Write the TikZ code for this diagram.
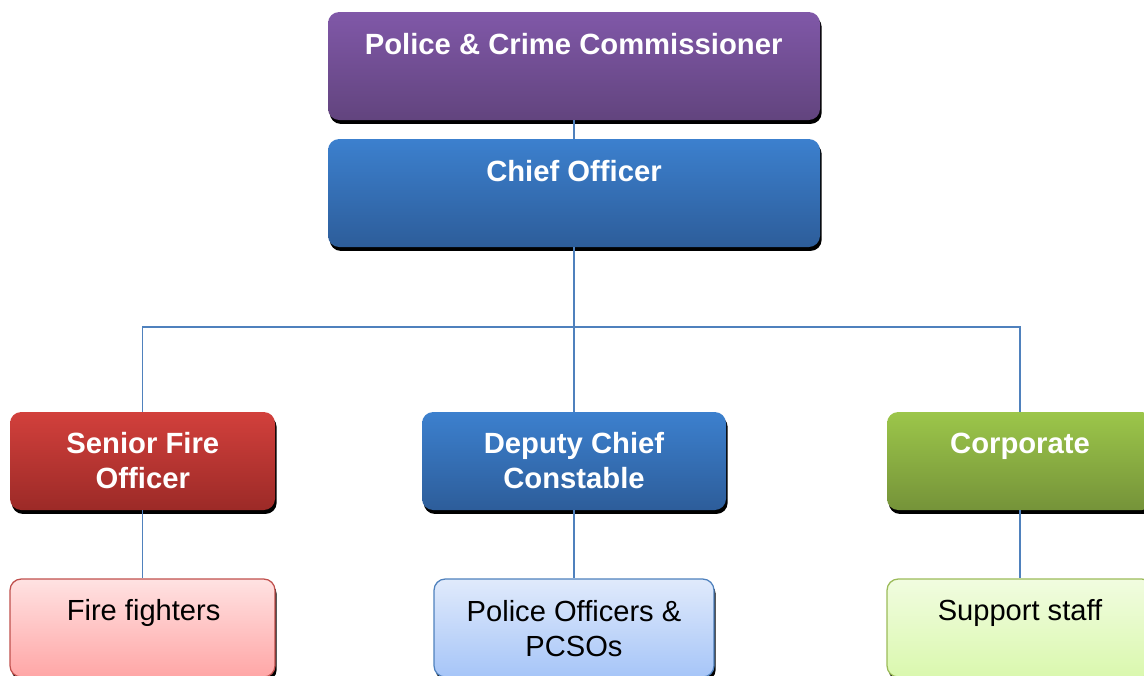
\documentclass[tikz,border=0pt]{standalone}
\usepackage{fontspec}
\setmainfont{Liberation Sans}
\definecolor{pccTop}{RGB}{128,88,168}
\definecolor{pccBot}{RGB}{98,68,126}
\definecolor{blueTop}{RGB}{60,128,206}
\definecolor{blueBot}{RGB}{45,93,154}
\definecolor{redTop}{RGB}{210,64,60}
\definecolor{redBot}{RGB}{156,42,39}
\definecolor{greenTop}{RGB}{156,198,74}
\definecolor{greenBot}{RGB}{117,147,57}
\definecolor{pinkTop}{RGB}{255,226,226}
\definecolor{pinkBot}{RGB}{255,166,166}
\definecolor{pinkLine}{RGB}{192,80,77}
\definecolor{skyTop}{RGB}{224,234,251}
\definecolor{skyBot}{RGB}{166,197,248}
\definecolor{skyLine}{RGB}{79,129,189}
\definecolor{limeTop}{RGB}{241,252,224}
\definecolor{limeBot}{RGB}{218,248,174}
\definecolor{limeLine}{RGB}{155,187,89}
\definecolor{linkblue}{RGB}{79,129,189}
\tikzset{
  unit/.style={rounded corners=8pt, inner sep=0pt,
    preaction={fill=black, transform canvas={xshift=1.2pt,yshift=-2.8pt}}},
  headtext/.style={text=white, font=\bfseries\fontsize{20.8}{24.9}\selectfont, align=center},
  stafftext/.style={text=black, font=\fontsize{20.7}{24.9}\selectfont, align=center},
  link/.style={draw=linkblue, line width=1pt}
}
\begin{document}
\begin{tikzpicture}
\useasboundingbox (0,0) rectangle (28.6,-16.875);
% top of the chart
\node[unit, minimum width=12.3cm, minimum height=2.7cm, top color=pccTop, bottom color=pccBot] (pcc) at (14.35,-1.65) {};
\node[unit, minimum width=12.3cm, minimum height=2.7cm, top color=blueTop, bottom color=blueBot] (chief) at (14.35,-4.825) {};
\node[headtext] (pcc-t) at (14.34,-1.1) {Police \& Crime Commissioner};
\node[headtext] (chief-t) at (14.35,-4.275) {Chief Officer};
% second row
\node[unit, minimum width=6.625cm, minimum height=2.45cm, top color=redTop, bottom color=redBot] (sfo) at (3.5625,-11.525) {};
\node[unit, minimum width=7.6cm, minimum height=2.45cm, top color=blueTop, bottom color=blueBot] (dcc) at (14.35,-11.525) {};
\node[unit, minimum width=6.65cm, minimum height=2.45cm, top color=greenTop, bottom color=greenBot] (corp) at (25.5,-11.525) {};
\node[headtext] (sfo-t) at (3.57,-11.51) {Senior Fire\\Officer};
\node[headtext] (dcc-t) at (14.35,-11.51) {Deputy Chief\\Constable};
\node[headtext] (corp-t) at (25.5,-11.15) {Corporate};
% staff
\node[unit, minimum width=6.625cm, minimum height=2.45cm, top color=pinkTop, bottom color=pinkBot, draw=pinkLine, line width=0.9pt] (fire) at (3.5625,-15.7) {};
\node[unit, minimum width=7.0cm, minimum height=2.45cm, top color=skyTop, bottom color=skyBot, draw=skyLine, line width=0.9pt] (pol) at (14.35,-15.7) {};
\node[unit, minimum width=6.65cm, minimum height=2.45cm, top color=limeTop, bottom color=limeBot, draw=limeLine, line width=0.9pt] (sup) at (25.5,-15.7) {};
\node[stafftext] (fire-t) at (3.59,-15.32) {Fire fighters};
\node[stafftext] (pol-t) at (14.35,-15.72) {Police Officers \&\\PCSOs};
\node[stafftext] (sup-t) at (25.5,-15.32) {Support staff};
% lines
\coordinate (bus) at (14.38,-8.175);
\draw[link] (pcc.south) -- (chief.north);
\draw[link] (chief.south) -- (dcc.north);
\draw[link] (sfo.north) |- (bus) -| (corp.north);
\draw[link] (sfo.south) -- (fire.north);
\draw[link] (dcc.south) -- (pol.north);
\draw[link] (corp.south) -- (sup.north);
\end{tikzpicture}
\end{document}
